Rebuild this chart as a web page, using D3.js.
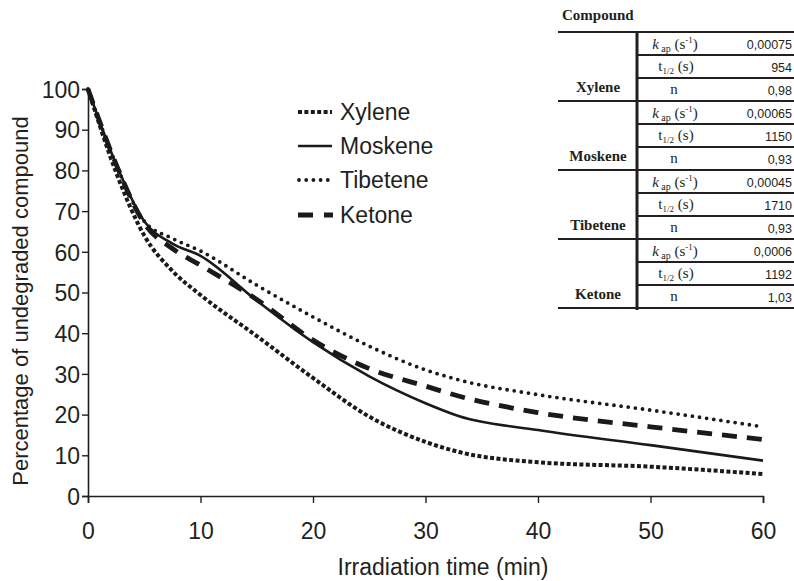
<!DOCTYPE html>
<html><head><meta charset="utf-8">
<script src="https://cdn.jsdelivr.net/npm/d3@7"></script>
<style>
body{margin:0;background:#fff}
svg{display:block}
</style></head>
<body><svg id="c" width="794" height="581"></svg>
<script>
const times    = [0, 2.5, 5, 7.5, 10, 15, 20, 25, 30, 33, 40, 50, 60];
const xylene   = [100, 79.5, 64, 55.3, 49.4, 39.3, 29, 19.5, 13.3, 10.8, 8.3, 7.2, 5.4];
const moskene  = [100, 81.5, 67.5, 62, 59, 48, 37.8, 29.4, 22.8, 19.6, 16.2, 12.5, 8.7];
const tibetene = [100, 81.5, 67.5, 63.3, 60.2, 51.8, 44, 36.8, 31, 28.5, 24.9, 21.1, 17];
const ketone   = [100, 81.5, 67, 60.8, 56.7, 48.3, 38.3, 31.3, 27, 24.5, 20.5, 17, 13.9];
const seriesNames = ["Xylene", "Moskene", "Tibetene", "Ketone"];
const xTicks = [0, 10, 20, 30, 40, 50, 60];
const yTicks = [0, 10, 20, 30, 40, 50, 60, 70, 80, 90, 100];
const kapValues = ["0,00075", "0,00065", "0,00045", "0,0006"];
const halfLives = ["954", "1150", "1710", "1192"];
const nValues   = ["0,98", "0,93", "0,93", "1,03"];

const ink = "#231f20";
const svg = d3.select("#c");
const x = d3.scaleLinear().domain([0, 60]).range([88, 763]);
const y = d3.scaleLinear().domain([0, 100]).range([496, 89]);

const styles = {
  Xylene:   {w: 4, dash: "4,2.4", cap: "butt"},
  Moskene:  {w: 2.6, dash: null, cap: "butt"},
  Tibetene: {w: 3.8, dash: "0,7.2", cap: "round"},
  Ketone:   {w: 4.8, dash: "15,10", cap: "butt"}
};
const allSeries = [xylene, moskene, tibetene, ketone];
const sansF = "Liberation Sans, Arial, Helvetica, sans-serif";

// axes
const xAxis = d3.axisBottom(x).tickValues(xTicks).tickSize(7).tickPadding(20);
const gx = svg.append("g").attr("transform", `translate(0,${y(0)})`).call(xAxis);
const yAxis = d3.axisLeft(y).tickValues(yTicks).tickSize(6).tickPadding(2);
const gy = svg.append("g").attr("transform", `translate(${x(0)},0)`).call(yAxis);
[gx, gy].forEach(g => {
  g.select(".domain").attr("stroke", ink).attr("stroke-width", 1.6);
  g.selectAll(".tick line").attr("stroke", ink).attr("stroke-width", 1.4);
  g.selectAll(".tick text").attr("fill", ink).style("font-family", sansF).style("font-size", "23px");
});
gy.selectAll(".tick text").attr("dy", "0.36em");

svg.append("text").attr("x", 443).attr("y", 575).attr("text-anchor", "middle")
  .attr("fill", ink).style("font-family", sansF).style("font-size", "23px")
  .text("Irradiation time (min)");
svg.append("text").attr("transform", "translate(28,301) rotate(-90)").attr("text-anchor", "middle")
  .attr("fill", ink).style("font-family", sansF).style("font-size", "22px")
  .text("Percentage of undegraded compound");

// lines
const line = d3.line().curve(d3.curveMonotoneX);
seriesNames.forEach((name, i) => {
  const st = styles[name];
  const pts = times.map((t, j) => [x(t), y(allSeries[i][j])]);
  svg.append("path").attr("d", line(pts)).attr("fill", "none").attr("stroke", "#1a1a1a")
    .attr("stroke-width", st.w).attr("stroke-dasharray", st.dash).attr("stroke-linecap", st.cap)
    .attr("stroke-linejoin", "round");
});

// legend
const legY = [112, 146, 180, 215];
seriesNames.forEach((name, i) => {
  const st = styles[name];
  const ly = legY[i];
  svg.append("line").attr("x1", name === "Tibetene" ? 299 : 298).attr("x2", name === "Ketone" ? 333 : 332)
    .attr("y1", ly).attr("y2", ly).attr("stroke", "#1a1a1a").attr("stroke-width", st.w)
    .attr("stroke-dasharray", name === "Ketone" ? "15,11" : st.dash).attr("stroke-linecap", st.cap);
  svg.append("text").attr("x", 340).attr("y", ly).attr("dy", "0.36em").attr("fill", ink)
    .style("font-family", sansF).style("font-size", "23px").text(name);
});

// table
const serif = "Liberation Serif, Times New Roman, serif";
const tTop = 32, gH = 69, rH = 23, tL = 558, tR = 794, tMid = 637;
svg.append("text").attr("x", 562).attr("y", 20).attr("fill", ink)
  .style("font-family", serif).style("font-weight", "bold").style("font-size", "15px").text("Compound");
seriesNames.forEach((name, i) => {
  const g0 = tTop + i * gH;
  svg.append("line").attr("x1", tL).attr("x2", tR).attr("y1", g0).attr("y2", g0)
    .attr("stroke", ink).attr("stroke-width", 2.2);
  for (let r = 1; r < 3; r++) {
    svg.append("line").attr("x1", tMid).attr("x2", tR).attr("y1", g0 + r * rH).attr("y2", g0 + r * rH)
      .attr("stroke", ink).attr("stroke-width", 2);
  }
  svg.append("text").attr("x", 598).attr("y", g0 + gH - 9).attr("text-anchor", "middle").attr("fill", ink)
    .style("font-family", serif).style("font-weight", "bold").style("font-size", "15px").text(name);
  // k_ap row
  const t1 = svg.append("text").attr("x", 675).attr("y", g0 + 17).attr("text-anchor", "middle").attr("fill", ink)
    .style("font-family", serif).style("font-size", "15px");
  t1.append("tspan").style("font-style", "italic").text("k");
  t1.append("tspan").attr("dy", 3).style("font-size", "10px").text(" ap");
  t1.append("tspan").attr("dy", -3).text(" (s");
  t1.append("tspan").attr("dy", -6).style("font-size", "9px").text("-1");
  t1.append("tspan").attr("dy", 6).text(")");
  // t1/2 row
  const t2 = svg.append("text").attr("x", 676).attr("y", g0 + rH + 16).attr("text-anchor", "middle").attr("fill", ink)
    .style("font-family", serif).style("font-size", "15px");
  t2.append("tspan").text("t");
  t2.append("tspan").attr("dy", 3).style("font-size", "9px").text("1/2");
  t2.append("tspan").attr("dy", -3).text(" (s)");
  // n row
  svg.append("text").attr("x", 674).attr("y", g0 + 2 * rH + 16).attr("text-anchor", "middle").attr("fill", ink)
    .style("font-family", serif).style("font-size", "15px").text("n");
  [kapValues[i], halfLives[i], nValues[i]].forEach((v, r) => {
    svg.append("text").attr("x", 792).attr("y", g0 + r * rH + 17).attr("text-anchor", "end").attr("fill", ink)
      .style("font-family", sansF).style("font-size", "12.5px").text(v);
  });
});
svg.append("line").attr("x1", tL).attr("x2", tR).attr("y1", tTop + 4 * gH).attr("y2", tTop + 4 * gH)
  .attr("stroke", ink).attr("stroke-width", 2.2);
svg.append("line").attr("x1", tMid).attr("x2", tMid).attr("y1", tTop).attr("y2", tTop + 4 * gH + 2)
  .attr("stroke", ink).attr("stroke-width", 3);
</script></body></html>
